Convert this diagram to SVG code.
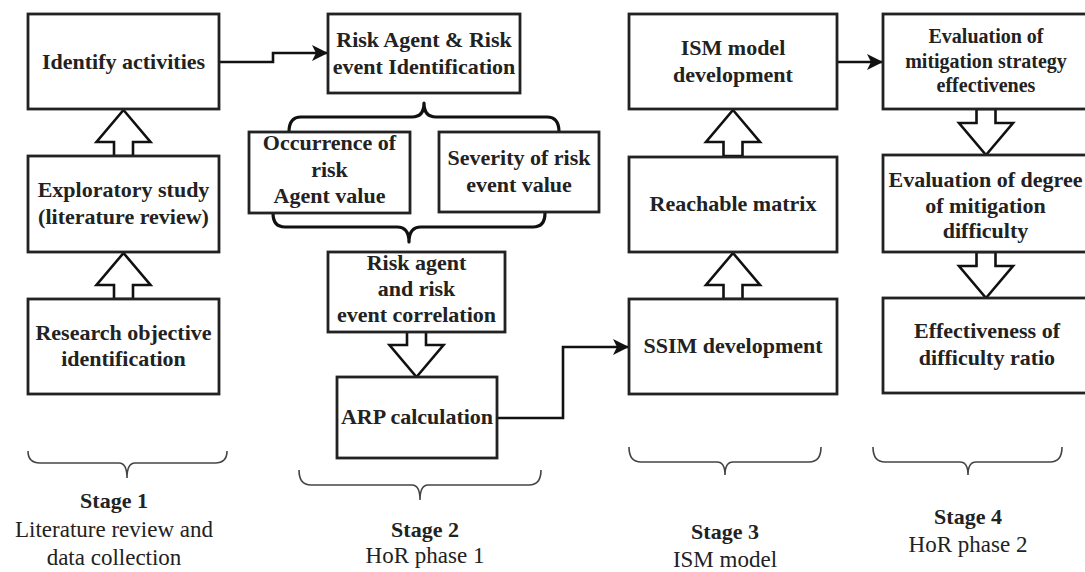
<svg xmlns="http://www.w3.org/2000/svg" xmlns:xlink="http://www.w3.org/1999/xlink" width="1085" height="572" viewBox="0 0 1085 572">
<style>
  .box{fill:#fff;stroke:#222;stroke-width:2.8}
  .lbl{font-family:'Liberation Serif','Tinos','DejaVu Serif','Noto Serif',serif;font-weight:bold;font-size:22px;fill:#222;text-anchor:middle}
  .sm{font-size:20px}
  .blk{fill:#fff;stroke:#111;stroke-width:2.6;stroke-linejoin:miter}
  .conn{fill:none;stroke:#111;stroke-width:2.6}
  .brace{fill:none;stroke:#111;stroke-width:3.2;stroke-linejoin:round}
  .sbrace{fill:none;stroke:#444;stroke-width:1.6}
  .stg{font-family:'Liberation Serif','Tinos','DejaVu Serif','Noto Serif',serif;font-size:23px;fill:#222;text-anchor:middle}
  .stgb{font-weight:bold;font-size:22px}
</style>
<defs>
  <marker id="arr" markerUnits="userSpaceOnUse" markerWidth="18" markerHeight="16" refX="16" refY="8" orient="auto">
    <path d="M0,0 L16,8 L0,16 L4,8 Z" fill="#111"/>
  </marker>
  <path id="up" d="M0,0 L27,32 L9.5,32 L9.5,46 L-9.5,46 L-9.5,32 L-27,32 Z"/>
  <path id="down" d="M0,0 L27,-32 L9.5,-32 L9.5,-46 L-9.5,-46 L-9.5,-32 L-27,-32 Z"/>
</defs>
<rect width="1085" height="572" fill="#fff"/>

<g id="connectors">
  <polyline class="conn" points="219,62 273,62 273,53 328,53" marker-end="url(#arr)"/>
  <polyline class="conn" points="497,418 563,418 563,347 629,347" marker-end="url(#arr)"/>
  <polyline class="conn" points="837,62 883,62" marker-end="url(#arr)"/>
  <use xlink:href="#up" href="#up" class="blk" x="123.5" y="110"/>
  <use xlink:href="#up" href="#up" class="blk" x="123.5" y="253"/>
  <use xlink:href="#up" href="#up" class="blk" x="733" y="110"/>
  <use xlink:href="#up" href="#up" class="blk" x="733" y="253"/>
  <use xlink:href="#down" href="#down" class="blk" x="416.5" y="377"/>
  <use xlink:href="#down" href="#down" class="blk" x="986" y="155"/>
  <use xlink:href="#down" href="#down" class="blk" x="986" y="298"/>
  <path class="brace" d="M289,132 Q289,117 301,117 L412,117 Q424,117 424,103 Q424,117 436,117 L547,117 Q559,117 559,132"/>
  <path class="brace" d="M273,213 Q273,227 285,227 L397,227 Q409,227 409,242 Q409,227 421,227 L533,227 Q545,227 545,213"/>
</g>

<g id="n-identify"><rect class="box" x="28" y="14" width="191" height="95"/><text class="lbl" x="123.5" y="69">Identify activities</text></g>
<g id="n-exploratory"><rect class="box" x="28" y="156" width="191" height="96"/><text class="lbl" x="123.5" y="197">Exploratory study<tspan x="123.5" dy="27">(literature review)</tspan></text></g>
<g id="n-research"><rect class="box" x="28" y="299" width="191" height="95"/><text class="lbl" x="123.5" y="340">Research objective<tspan x="123.5" dy="26">identification</tspan></text></g>

<g id="n-riskid"><rect class="box" x="328" y="14" width="192" height="79"/><text class="lbl" x="424" y="47">Risk Agent &amp; Risk<tspan x="424" dy="27">event Identification</tspan></text></g>
<g id="n-occurrence"><rect class="box" x="249" y="132" width="161" height="81"/><text class="lbl" x="329.5" y="150">Occurrence of<tspan x="329.5" dy="26.5">risk</tspan><tspan x="329.5" dy="26.5">Agent value</tspan></text></g>
<g id="n-severity"><rect class="box" x="439" y="132" width="160" height="80"/><text class="lbl" x="519" y="165">Severity of risk<tspan x="519" dy="27">event value</tspan></text></g>
<g id="n-correlation"><rect class="box" x="328" y="252" width="177" height="80"/><text class="lbl" x="416.5" y="270">Risk agent<tspan x="416.5" dy="26">and risk</tspan><tspan x="416.5" dy="26">event correlation</tspan></text></g>
<g id="n-arp"><rect class="box" x="337" y="377" width="160" height="81"/><text class="lbl" x="417" y="424">ARP calculation</text></g>

<g id="n-ism"><rect class="box" x="629" y="14" width="208" height="95"/><text class="lbl" x="733" y="55">ISM model<tspan x="733" dy="27">development</tspan></text></g>
<g id="n-reach"><rect class="box" x="629" y="157" width="208" height="95"/><text class="lbl" x="733" y="211">Reachable matrix</text></g>
<g id="n-ssim"><rect class="box" x="629" y="299" width="208" height="95"/><text class="lbl" x="733" y="353">SSIM development</text></g>

<g id="n-eval1"><rect class="box" x="883" y="14" width="215" height="95"/><text class="lbl sm" x="986" y="43">Evaluation of<tspan x="986" dy="24.5">mitigation strategy</tspan><tspan x="986" dy="24.5">effectivenes</tspan></text></g>
<g id="n-eval2"><rect class="box" x="883" y="155" width="215" height="97"/><text class="lbl" x="985.5" y="187">Evaluation of degree<tspan x="985.5" dy="26">of mitigation</tspan><tspan x="985.5" dy="25">difficulty</tspan></text></g>
<g id="n-effect"><rect class="box" x="883" y="298" width="215" height="95"/><text class="lbl" x="987" y="338">Effectiveness of<tspan x="987" dy="27">difficulty ratio</tspan></text></g>

<g id="stage1">
  <path class="sbrace" d="M28,451 Q28,463 40,463 L119,463 Q127,463 127,478 Q127,463 135,463 L215,463 Q227,463 227,451"/>
  <text class="stg" x="114" y="508"><tspan class="stgb">Stage 1</tspan><tspan x="114" dy="29">Literature review and</tspan><tspan x="114" dy="28">data collection</tspan></text>
</g>
<g id="stage2">
  <path class="sbrace" d="M299,470 Q299,485 311,485 L412,485 Q420,485 420,500 Q420,485 428,485 L529,485 Q541,485 541,470"/>
  <text class="stg" x="425" y="537"><tspan class="stgb">Stage 2</tspan><tspan x="425" dy="26">HoR phase 1</tspan></text>
</g>
<g id="stage3">
  <path class="sbrace" d="M629,447 Q629,462 641,462 L717,462 Q725,462 725,475 Q725,462 733,462 L809,462 Q821,462 821,447"/>
  <text class="stg" x="725" y="539"><tspan class="stgb">Stage 3</tspan><tspan x="725" dy="28">ISM model</tspan></text>
</g>
<g id="stage4">
  <path class="sbrace" d="M873,447 Q873,462 885,462 L960,462 Q968,462 968,475 Q968,462 976,462 L1050,462 Q1062,462 1062,447"/>
  <text class="stg" x="968" y="524"><tspan class="stgb">Stage 4</tspan><tspan x="968" dy="28">HoR phase 2</tspan></text>
</g>
</svg>
